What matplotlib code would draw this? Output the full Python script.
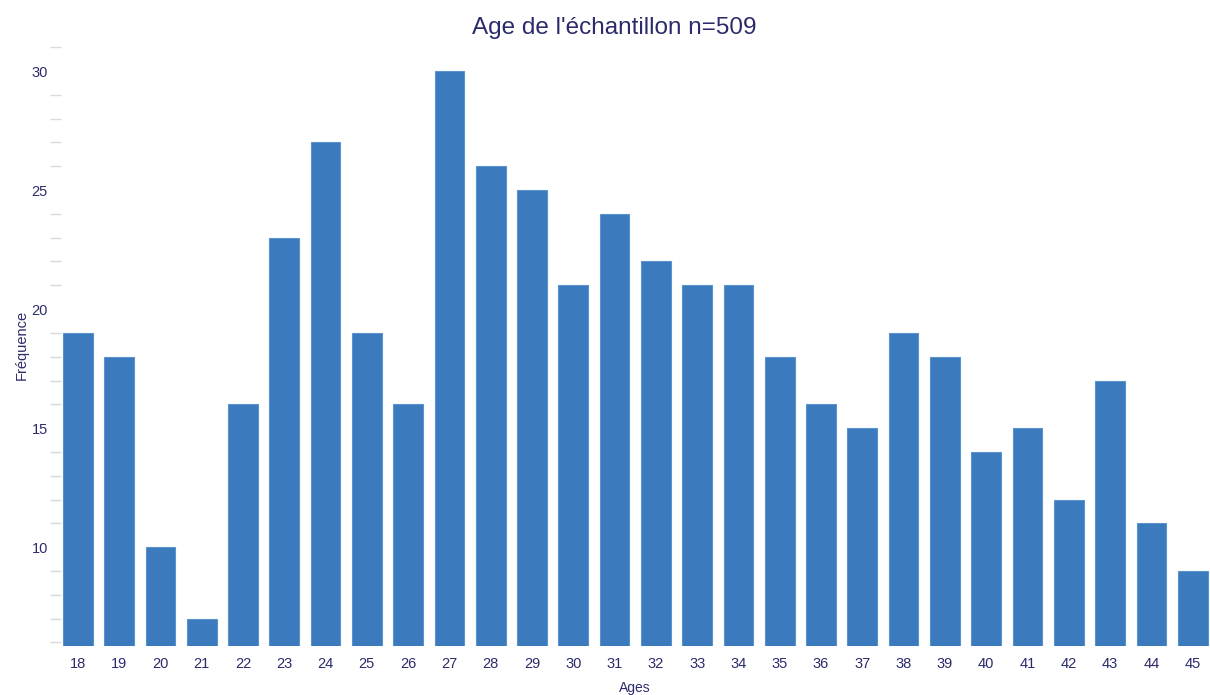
import matplotlib.pyplot as plt
from matplotlib.ticker import MultipleLocator

# data
ages = [str(a) for a in range(18, 46)]
counts = [19, 18, 10, 7, 16, 23, 27, 19, 16, 30, 26, 25, 21, 24, 22, 21, 21,
          18, 16, 15, 19, 18, 14, 15, 12, 17, 11, 9]

navy = '#2b2b6b'
bar_color = '#3a7abd'

plt.rcParams['font.family'] = ['Liberation Sans', 'DejaVu Sans']

fig = plt.figure(figsize=(12.1, 6.95), dpi=100)
ax = fig.add_axes([0.05, 0.0705, 0.95, 0.865])

x = list(range(len(ages)))
ax.bar(x, counts, width=0.72, color=bar_color, edgecolor='#5b93cc', linewidth=0.8)

ax.set_xlim(-0.42, len(ages) - 0.58)
ax.set_ylim(5.85, 31.1)
ax.set_xticks(x)
ax.set_xticklabels(ages)
ax.yaxis.set_major_locator(MultipleLocator(5))
ax.yaxis.set_minor_locator(MultipleLocator(1))

for s in ax.spines.values():
    s.set_visible(False)

ax.tick_params(axis='x', length=0, pad=8, labelsize=10.5, labelcolor=navy)
ax.tick_params(axis='y', which='major', length=0, pad=9, labelsize=10.5, labelcolor=navy)
ax.tick_params(axis='y', which='minor', length=8, width=1, color='#d9d9d9', pad=2)

ax.set_title("Age de l'échantillon n=509", fontsize=17.5, color=navy, pad=8, x=0.482)
ax.set_ylabel('Fréquence', fontsize=10.5, color=navy, labelpad=2)
ax.set_xlabel('Ages', fontsize=10, color=navy, labelpad=7)

fig.savefig('out.png', dpi=100)
